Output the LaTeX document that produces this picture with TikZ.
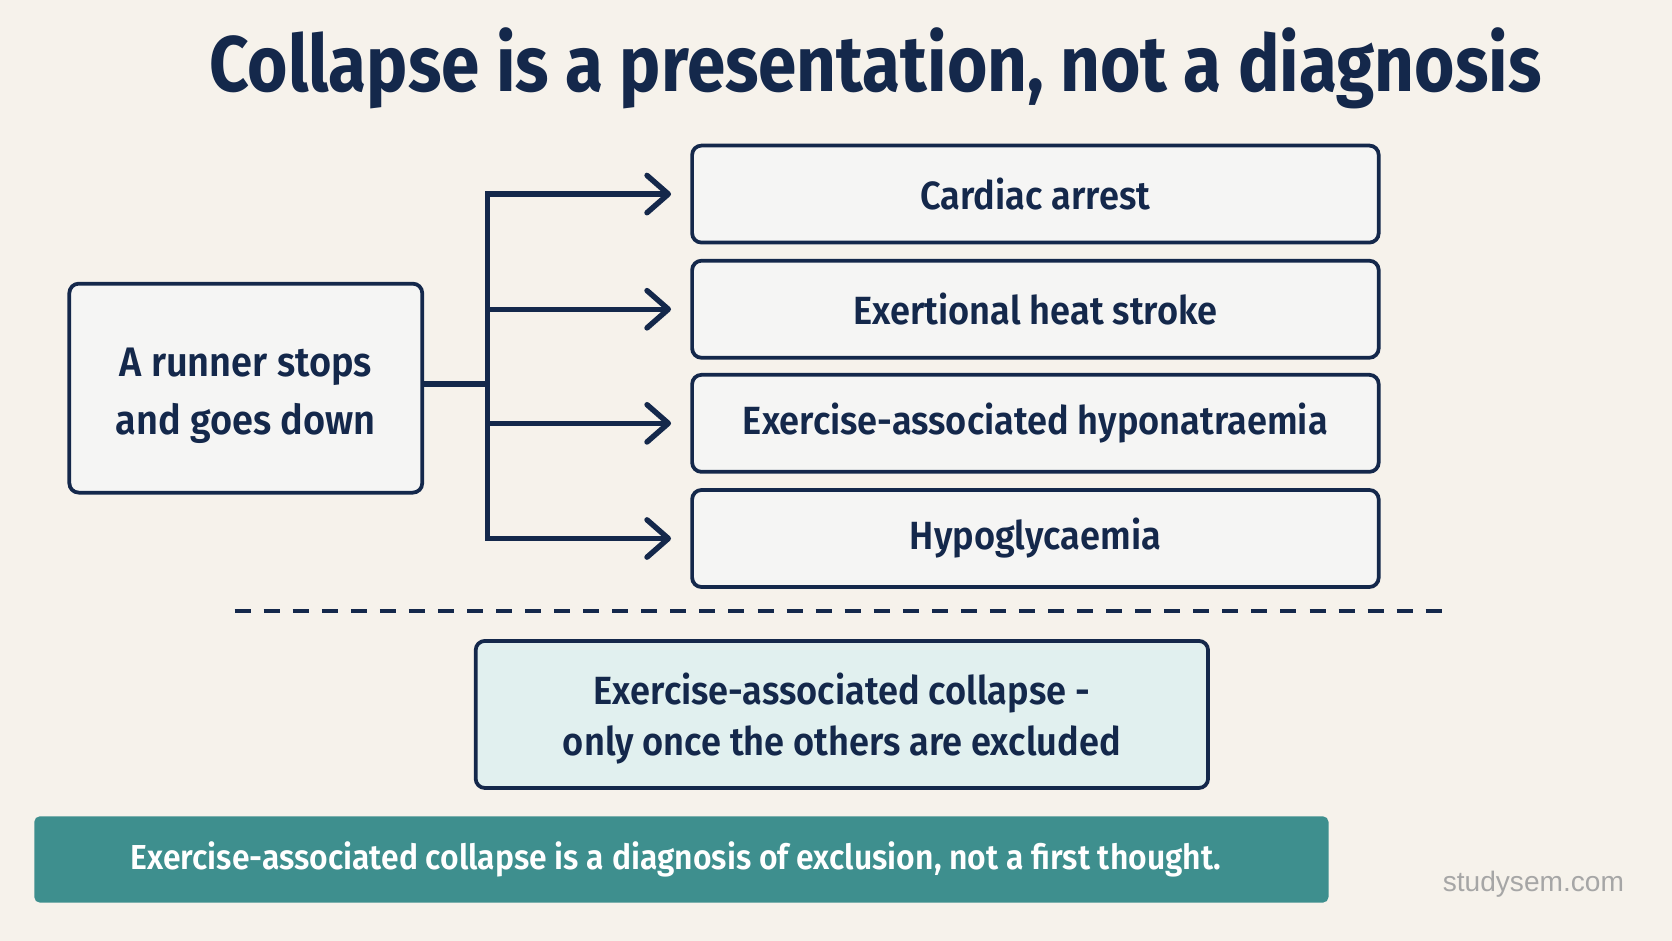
\documentclass[tikz,border=0pt]{standalone}
\usepackage{fontspec}
\setmainfont{Fira Sans}
\newfontfamily\titlefont{Fira Sans Bold}[FakeStretch=0.88]
\newfontfamily\semifont{Fira Sans SemiBold}[FakeStretch=0.92]
\newfontfamily\markfont{Liberation Sans}
\usetikzlibrary{arrows.meta}
\definecolor{navy}{HTML}{14284B}
\definecolor{bgcream}{HTML}{F6F2EB}
\definecolor{boxfill}{HTML}{F5F5F4}
\definecolor{tealpale}{HTML}{E1F0EF}
\definecolor{tealbar}{HTML}{3E8F8E}
\definecolor{markgray}{HTML}{A6A6A6}
\begin{document}
\begin{tikzpicture}[x=0.02cm, y=-0.02cm,
    box/.style = {draw=navy, line width=2pt, rounded corners=5pt,
                fill=boxfill, text=navy, align=center,
                font=\semifont\fontsize{21}{30}\selectfont},
    cause/.style = {box, minimum width=12.88cm, minimum height=1.82cm},
    link/.style = {navy, line width=2.9pt},
    tip/.style = {-{Straight Barb[round, length=0.4cm, width=0.7cm]}, shorten >=0.36cm}
                    ]
        \fill[bgcream] (0,0) rectangle (1568,882);  % background
        \useasboundingbox (0,0) rectangle (1568,882);
        \node[text=navy, font=\titlefont\fontsize{42}{50}\selectfont] (title) at (821,64)
            {Collapse is a presentation, not a diagnosis};
        \node[box, minimum width=6.62cm, minimum height=3.92cm,
              font=\semifont\fontsize{22}{31}\selectfont] (runner) at (230.5,364)
            {\rule{0pt}{0.81cm}A runner stops\\and goes down};
        \foreach \y/\n/\t in {182/c1/Cardiac arrest, 290/c2/Exertional heat stroke,
                              397/c3/Exercise-associated hyponatraemia, 505/c4/Hypoglycaemia}
            \node[cause] at (971,\y) (\n) {\t};
        \coordinate (fork) at (457,360);
        \draw[link] (runner.east |- fork) -- (fork);
        \foreach \n in {c1,c2,c3,c4}
            \draw[link,tip] (fork) |- (\n.west);
        \draw[navy, line width=1.7pt, dash pattern=on 0.3cm off 0.245cm] (220,573) -- (1352,573);
        \node[box, fill=tealpale, minimum width=13.74cm, minimum height=2.76cm,
              font=\semifont\fontsize{21}{27}\selectfont] (eac) at (789.5,670)
            {\rule{0pt}{0.74cm}Exercise-associated collapse -\\only once the others are excluded};
        \node[fill=tealbar, rounded corners=3pt, minimum width=24.28cm, minimum height=1.62cm,
              text=white, font=\semifont\fontsize{18.5}{22}\selectfont] (banner) at (639,806)
            {\hspace*{-0.2cm}Exercise-associated collapse is a diagnosis of exclusion, not a first thought.};
        \node[text=markgray, font=\markfont\fontsize{15}{18}\selectfont] (mark) at (1438,829)
            {studysem.com};
    \end{tikzpicture}
\end{document}
